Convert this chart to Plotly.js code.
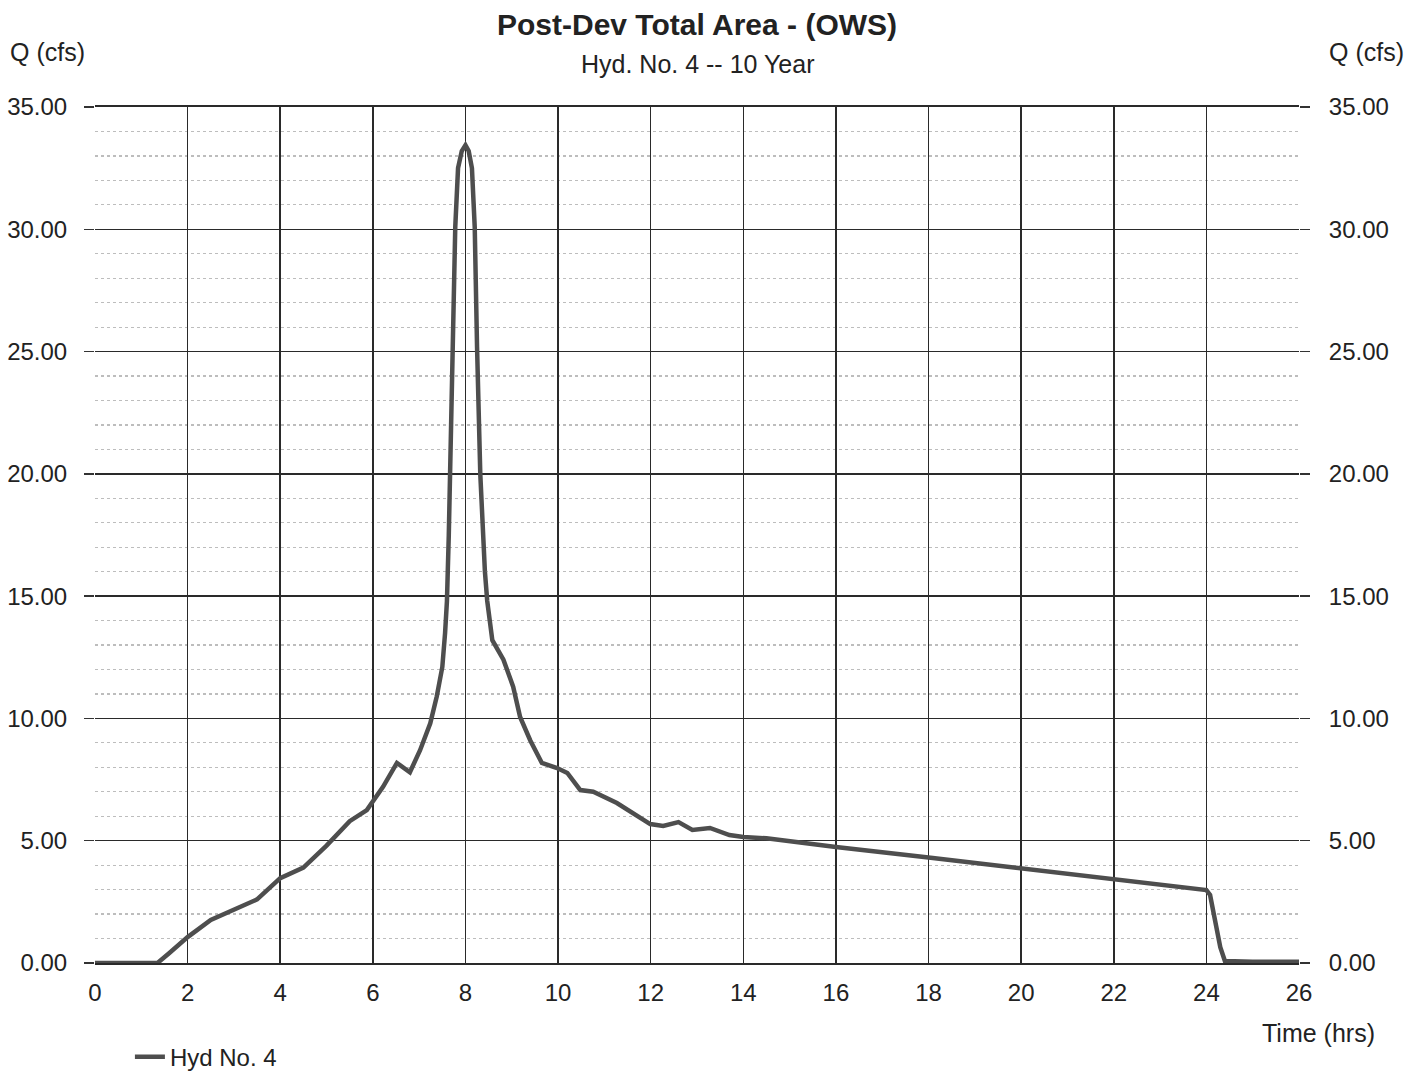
<!DOCTYPE html>
<html>
<head>
<meta charset="utf-8">
<script src="https://cdn.plot.ly/plotly-3.0.1.min.js"></script>
<style>html,body{margin:0;padding:0;background:#fff;}#chart{width:1419px;height:1074px;}</style>
</head>
<body>
<div id="chart"></div>
<script>
const timeHrs = [0, 1.0, 1.35, 1.6, 2.0, 2.5, 3.0, 3.5, 4.0, 4.5, 5.0, 5.5, 5.87, 6.0, 6.22, 6.52, 6.8, 7.02, 7.24, 7.38, 7.5, 7.56, 7.6, 7.64, 7.67, 7.71, 7.78, 7.84, 7.92, 8.0, 8.07, 8.14, 8.2, 8.25, 8.32, 8.42, 8.47, 8.58, 8.82, 9.03, 9.18, 9.4, 9.65, 9.98, 10.2, 10.48, 10.76, 11.27, 11.7, 11.99, 12.27, 12.6, 12.9, 13.28, 13.7, 14.0, 14.5, 15.07, 16, 18, 20, 22, 24.0, 24.08, 24.19, 24.3, 24.4, 25, 26];
const flowCfs = [0, 0, 0, 0.4, 1.06, 1.76, 2.17, 2.6, 3.47, 3.9, 4.8, 5.8, 6.25, 6.6, 7.2, 8.18, 7.8, 8.7, 9.8, 10.9, 12.1, 13.5, 14.8, 17.5, 20.0, 25.2, 30.1, 32.5, 33.2, 33.44, 33.2, 32.5, 30.1, 25.2, 20.0, 16.0, 14.8, 13.2, 12.4, 11.3, 10.06, 9.1, 8.18, 7.97, 7.77, 7.07, 7.0, 6.54, 6.05, 5.68, 5.6, 5.76, 5.44, 5.52, 5.23, 5.15, 5.1, 4.95, 4.74, 4.31, 3.88, 3.45, 2.98, 2.78, 1.76, 0.65, 0.08, 0.05, 0.05];
const seriesName = "Hyd No. 4";
const chartTitle = "Post-Dev Total Area - (OWS)";
const chartSubtitle = "Hyd. No. 4 -- 10 Year";
const yLabel = "Q (cfs)";
const xLabel = "Time (hrs)";

const FONT = "Liberation Sans, Arial, sans-serif";
const traces = [
  {x: timeHrs, y: flowCfs, type: 'scatter', mode: 'lines', name: seriesName,
   line: {color: '#4e4e4e', width: 4.5}},
  {x: timeHrs, y: flowCfs, type: 'scatter', mode: 'lines', yaxis: 'y2', showlegend: false,
   hoverinfo: 'skip', opacity: 0, line: {width: 0}}
];
const yCommon = {
  range: [0, 35], dtick: 5, tick0: 0, tickformat: '.2f',
  ticks: 'outside', ticklen: 10, tickcolor: '#333', tickwidth: 1.5,
  tickfont: {family: FONT, size: 24, color: '#222'},
  zeroline: false, fixedrange: true
};
const layout = {
  width: 1419, height: 1074,
  paper_bgcolor: '#fff', plot_bgcolor: '#fff',
  margin: {l: 95, r: 120, t: 107, b: 111, autoexpand: false},
  font: {family: FONT, color: '#222'},
  showlegend: true,
  legend: {x: 0.029, xanchor: 'left', y: -0.11, yanchor: 'middle', orientation: 'h',
           font: {family: FONT, size: 24, color: '#222'}, bgcolor: 'rgba(0,0,0,0)'},
  xaxis: {
    range: [0, 26], dtick: 2, tick0: 0, showgrid: true, gridcolor: '#2a2a2a', gridwidth: 1.6,
    zeroline: false, showline: true, linecolor: '#2a2a2a', linewidth: 1.6, mirror: true,
    ticks: '', ticklabelstandoff: 8, tickfont: {family: FONT, size: 24, color: '#222'}, fixedrange: true
  },
  yaxis: Object.assign({}, yCommon, {
    side: 'left', showgrid: true, gridcolor: '#2a2a2a', gridwidth: 1.4,
    showline: false, ticklabelstandoff: 12,
    minor: {dtick: 1, showgrid: true, gridcolor: '#bdbdbd', gridwidth: 1.2, griddash: 'dot'}
  }),
  yaxis2: Object.assign({}, yCommon, {
    side: 'right', overlaying: 'y', showgrid: false, showline: false, ticklabelstandoff: 14
  }),
  annotations: [
    {text: '<b>' + chartTitle + '</b>', xref: 'paper', yref: 'paper', x: 0.5, y: 1.0958,
     xanchor: 'center', yanchor: 'middle', showarrow: false, font: {family: FONT, size: 30, color: '#222'}},
    {text: chartSubtitle, xref: 'paper', yref: 'paper', x: 0.5, y: 1.0502,
     xanchor: 'center', yanchor: 'middle', showarrow: false, font: {family: FONT, size: 25, color: '#222'}},
    {text: yLabel, xref: 'paper', yref: 'paper', x: -0.0723, y: 1.0643,
     xanchor: 'left', yanchor: 'middle', showarrow: false, font: {family: FONT, size: 25, color: '#222'}},
    {text: yLabel, xref: 'paper', yref: 'paper', x: 1.0233, y: 1.0643,
     xanchor: 'left', yanchor: 'middle', showarrow: false, font: {family: FONT, size: 25, color: '#222'}},
    {text: xLabel, xref: 'paper', yref: 'paper', x: 1.0648, y: -0.0818,
     xanchor: 'right', yanchor: 'middle', showarrow: false, font: {family: FONT, size: 25, color: '#222'}}
  ]
};
Plotly.newPlot('chart', traces, layout, {displayModeBar: false, staticPlot: true});
</script>
</body>
</html>
